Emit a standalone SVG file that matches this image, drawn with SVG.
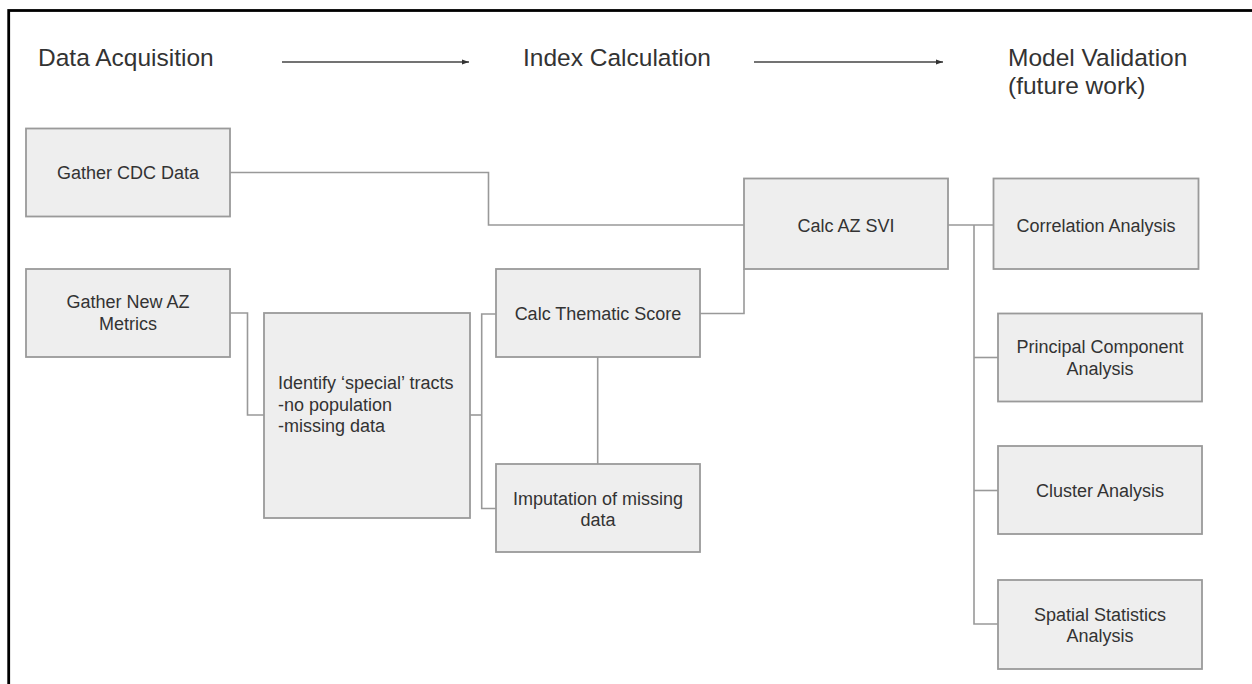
<svg xmlns="http://www.w3.org/2000/svg" width="1252" height="684" viewBox="0 0 1252 684">
<style>
.box{fill:#eeeeee;stroke:#9a9a9a;stroke-width:1.8}
.t{font-family:"Liberation Sans",Arial,sans-serif;font-size:18px;fill:#333;text-anchor:middle}
.tl{font-family:"Liberation Sans",Arial,sans-serif;font-size:18px;fill:#333}
.h{font-family:"Liberation Sans",Arial,sans-serif;font-size:24.5px;fill:#333}
.c{fill:none;stroke:#999;stroke-width:1.6}
.ha{fill:none;stroke:#444;stroke-width:1.4}
</style>
<defs>
<marker id="ah" markerWidth="8" markerHeight="6" refX="7" refY="3" orient="auto" markerUnits="userSpaceOnUse">
<path d="M0,0.5 L7,3 L0,5.5 Z" fill="#333"/>
</marker>
</defs>
<rect width="1252" height="684" fill="#fff"/>
<rect x="8.7" y="10.5" width="1300" height="700" fill="none" stroke="#000" stroke-width="2.8"/>

<g id="headers">
<text class="h" x="38" y="66">Data Acquisition</text>
<text class="h" x="523" y="65.5">Index Calculation</text>
<text class="h" x="1008" y="65.5">Model Validation</text>
<text class="h" x="1008" y="93.5">(future work)</text>
<line class="ha" x1="282" y1="62" x2="469" y2="62" marker-end="url(#ah)"/>
<line class="ha" x1="754" y1="62" x2="943" y2="62" marker-end="url(#ah)"/>
</g>

<g id="connectors">
<polyline class="c" points="230,172.5 488.5,172.5 488.5,225 744,225"/>
<polyline class="c" points="230,313 247.5,313 247.5,415 264,415"/>
<polyline class="c" points="470,415 481.7,415"/>
<polyline class="c" points="496,314 481.7,314 481.7,508.5 496,508.5"/>
<polyline class="c" points="597.7,357 597.7,464"/>
<polyline class="c" points="700,313.5 744,313.5 744,269"/>
<polyline class="c" points="948,225 993,225"/>
<polyline class="c" points="974,225 974,624 998,624"/>
<polyline class="c" points="974,357.5 998,357.5"/>
<polyline class="c" points="974,490.5 998,490.5"/>
</g>

<g id="gather-cdc">
<rect class="box" x="26" y="128.5" width="204" height="88"/>
<text class="t" x="128" y="179">Gather CDC Data</text>
</g>
<g id="gather-az">
<rect class="box" x="26" y="269" width="204" height="88"/>
<text class="t" x="128" y="308">Gather New AZ</text>
<text class="t" x="128" y="330">Metrics</text>
</g>
<g id="identify">
<rect class="box" x="264" y="313" width="206" height="205"/>
<text class="tl" x="278" y="389">Identify ‘special’ tracts</text>
<text class="tl" x="278" y="410.5">-no population</text>
<text class="tl" x="278" y="432">-missing data</text>
</g>
<g id="thematic">
<rect class="box" x="496" y="269" width="204" height="88"/>
<text class="t" x="598" y="320">Calc Thematic Score</text>
</g>
<g id="imputation">
<rect class="box" x="496" y="464" width="204" height="88"/>
<text class="t" x="598" y="505">Imputation of missing</text>
<text class="t" x="598" y="526">data</text>
</g>
<g id="svi">
<rect class="box" x="744" y="178.5" width="204" height="90.5"/>
<text class="t" x="846" y="231.5">Calc AZ SVI</text>
</g>
<g id="correlation">
<rect class="box" x="993.5" y="178.5" width="205" height="90.5"/>
<text class="t" x="1096" y="231.5">Correlation Analysis</text>
</g>
<g id="pca">
<rect class="box" x="998" y="313.5" width="204" height="88"/>
<text class="t" x="1100" y="353">Principal Component</text>
<text class="t" x="1100" y="375">Analysis</text>
</g>
<g id="cluster">
<rect class="box" x="998" y="446" width="204" height="88"/>
<text class="t" x="1100" y="497">Cluster Analysis</text>
</g>
<g id="spatial">
<rect class="box" x="998" y="580" width="204" height="89"/>
<text class="t" x="1100" y="620.5">Spatial Statistics</text>
<text class="t" x="1100" y="642">Analysis</text>
</g>
</svg>
